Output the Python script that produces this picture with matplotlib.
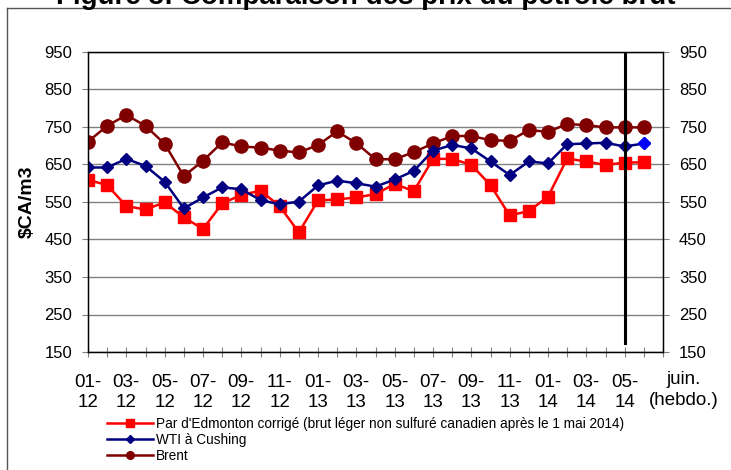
import matplotlib
matplotlib.use("Agg")
import matplotlib.pyplot as plt
from matplotlib.lines import Line2D

plt.rcParams["font.family"] = ["Liberation Sans", "DejaVu Sans"]

# monthly Jan-2012 .. May-2014, then one June (weekly) point
x_labels = ["01-\n12", "03-\n12", "05-\n12", "07-\n12", "09-\n12", "11-\n12",
            "01-\n13", "03-\n13", "05-\n13", "07-\n13", "09-\n13", "11-\n13",
            "01-\n14", "03-\n14", "05-\n14"]
last_label = "juin.\n(hebdo.)"

edmonton = [609, 595, 539, 530, 549, 509, 478, 546, 569, 580, 539, 469,
            554, 557, 562, 571, 598, 579, 665, 665, 649, 595, 514, 526,
            564, 666, 658, 649, 655, 656]
wti = [642, 642, 665, 646, 604, 533, 562, 589, 584, 555, 544, 551,
       594, 607, 600, 591, 610, 633, 687, 702, 693, 658, 622, 658,
       653, 704, 706, 708, 698, 706]
brent = [711, 753, 782, 753, 705, 619, 660, 709, 698, 695, 687, 682,
         702, 738, 707, 664, 664, 683, 706, 726, 726, 715, 713, 742,
         737, 758, 755, 749, 749, 749]

names = ["Par d'Edmonton corrigé (brut léger non sulfuré canadien après le 1 mai 2014)",
         "WTI à Cushing", "Brent"]

RED = "#FF0000"
NAVY = "#000080"
MAROON = "#800000"
GRID = "#808080"

fig = plt.figure(figsize=(7.31, 4.70), dpi=100)
ax = fig.add_axes([88 / 731, 1 - 352 / 470, (663 - 88) / 731, 300 / 470])

xs = list(range(len(brent)))
ax.plot(xs, edmonton, color=RED, lw=1.8, marker="s", ms=9, mec=RED, zorder=3)
ax.plot(xs, wti, color=NAVY, lw=1.8, marker="D", ms=6.5, mec=NAVY, zorder=4)
ax.plot(xs[-1:], wti[-1:], ls="none", marker="D", ms=6.5, color="#0000FF", zorder=5)
ax.plot(xs, brent, color=MAROON, lw=1.8, marker="o", ms=9.5, mec=MAROON, zorder=3)

# separator between monthly and weekly data
ax.plot([28, 28], [950, 175], color="black", lw=2.2, zorder=6)

ax.set_xlim(0, 30)
ax.set_ylim(150, 950)
ax.set_yticks(range(150, 951, 100))
ax.set_xticks(range(0, 31))
ax.set_xticklabels([x_labels[i // 2] if (i % 2 == 0 and i <= 28) else "" for i in range(31)])
ax.text(31.1, 100, last_label, ha="center", va="top", fontsize=13.5,
        clip_on=False, linespacing=1.3)

ax.grid(axis="y", color=GRID, lw=1)
ax.set_axisbelow(True)
for s in ax.spines.values():
    s.set_color("black")
    s.set_linewidth(1)
ax.tick_params(axis="y", direction="out", length=4.5, color=GRID, labelsize=12, pad=7)
ax.tick_params(axis="x", direction="inout", length=7, color=GRID, labelsize=13.5, pad=12)
for t in ax.get_xticklabels():
    t.set_linespacing(1.3)

ax2 = ax.twinx()
ax2.set_ylim(150, 950)
ax2.set_yticks(range(150, 951, 100))
ax2.tick_params(axis="y", direction="out", length=4.5, color=GRID, labelsize=12, pad=7)

ax.set_ylabel("$CA/m3", fontsize=14, fontweight="bold", labelpad=6)

handles = [
    Line2D([], [], color=RED, lw=1.8, marker="s", ms=5.5),
    Line2D([], [], color=NAVY, lw=1.8, marker="D", ms=4.5),
    Line2D([], [], color=MAROON, lw=1.8, marker="o", ms=5.5),
]
fig.legend(handles, names, loc="upper left", bbox_to_anchor=(107 / 731, 1 - 417 / 470),
           frameon=False, fontsize=9.8, handlelength=3.4, handletextpad=0.2,
           labelspacing=0.15, borderpad=0, borderaxespad=0)

# title sits above the clipped border, mostly outside the image
fig.text(366 / 731, 1 - 4 / 470, "Figure 3: Comparaison des prix du pétrole brut",
         ha="center", va="baseline", fontsize=20, fontweight="bold")

# outer frame (only top and left edges visible)
fig.add_artist(Line2D([7 / 731, 1.0], [1 - 8 / 470, 1 - 8 / 470], color="#555555", lw=1))
fig.add_artist(Line2D([7 / 731, 7 / 731], [0, 1 - 8 / 470], color="#555555", lw=1))

fig.savefig("out.png", dpi=100)
